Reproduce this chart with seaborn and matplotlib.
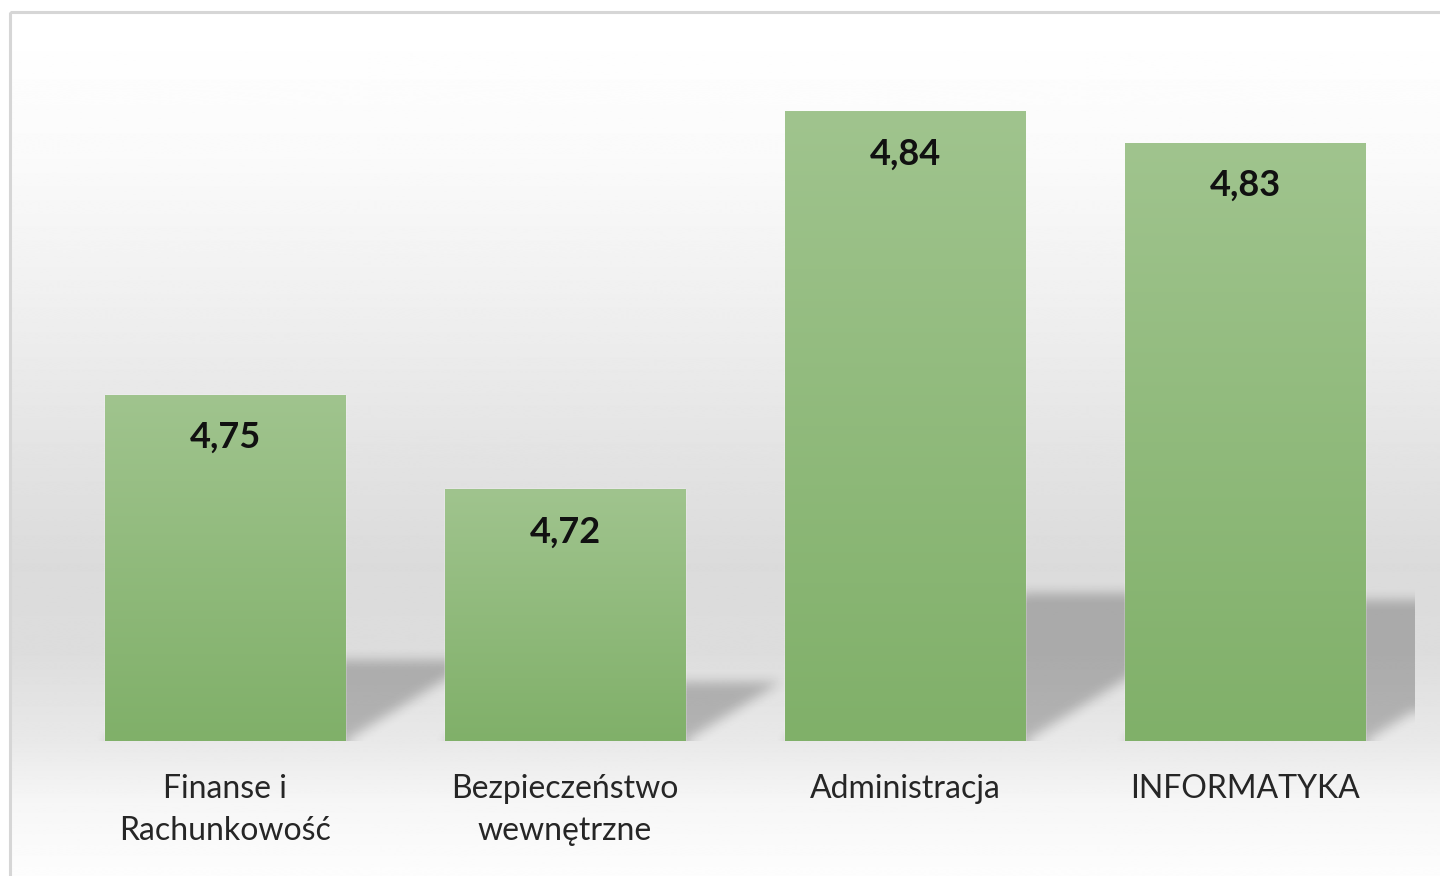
import numpy as np
import pandas as pd
import matplotlib
matplotlib.use('Agg')
import matplotlib.pyplot as plt
from matplotlib.patches import Rectangle
import seaborn as sns

# dane z wykresu
kierunki = ['Finanse i\nRachunkowość', 'Bezpieczeństwo\nwewnętrzne', 'Administracja', 'INFORMATYKA']
oceny = [4.75, 4.72, 4.84, 4.83]
etykiety = ['4,75', '4,72', '4,84', '4,83']

y_min, y_max = 4.64, 4.86

df = pd.DataFrame({'kierunek': kierunki, 'ocena': oceny})

sns.set_theme(style='white')
plt.rcParams['font.family'] = ['Lato', 'DejaVu Sans']

W, H = 1440, 876
fig = plt.figure(figsize=(W / 100, H / 100), dpi=100)

# tło: szary gradient w ramce wykresu
bg = fig.add_axes([0, 0, 1, 1], zorder=0)
bg.set_xlim(0, W)
bg.set_ylim(H, 0)
bg.axis('off')
ys = np.arange(H)
prof_y = [0, 40, 150, 300, 450, 560, 650, 741, 800, 876]
prof_v = [255, 254, 250, 239, 227, 219, 221, 233, 246, 253]
gray = np.interp(ys, prof_y, prof_v) / 255.0
grad = np.repeat(gray[:, None], 2, axis=1)
bg.imshow(grad, cmap='gray', vmin=0, vmax=1, aspect='auto',
          extent=(10, W + 5, H, 12), interpolation='bilinear')
bg.add_patch(Rectangle((10, 12), W, H, fill=False, edgecolor='#d6d6d6', linewidth=2.2))

# obszar kreślenia
left, right, bottom, top = 55, 1415, 741, 48
ax = fig.add_axes([left / W, (H - bottom) / H, (right - left) / W, (bottom - top) / H], zorder=1)
ax.patch.set_alpha(0)

sns.barplot(data=df, x='kierunek', y='ocena', ax=ax, color='#8fba7b',
            saturation=1, width=0.707, zorder=3)
ax.set_ylim(y_min, y_max)
ax.set_xlim(-0.5, len(kierunki) - 0.5)
for s in ax.spines.values():
    s.set_visible(False)
ax.set_yticks([])
ax.set_xlabel('')
ax.set_ylabel('')
ax.tick_params(axis='x', length=0, pad=24, labelsize=23, labelcolor='#262626')
for t in ax.get_xticklabels():
    t.set_linespacing(1.5)

# cienie perspektywiczne (raster z rozmyciem)
aw, ah = right - left, bottom - top
px = np.arange(aw)[None, :] + 0.5
py = np.arange(ah)[:, None] + 0.5
mask = np.zeros((ah, aw))
x_per_cat = aw / (len(kierunki))
y_per_unit = ah / (y_max - y_min)
for bar in ax.patches:
    x0 = (bar.get_x() + 0.5) * x_per_cat
    x1 = x0 + bar.get_width() * x_per_cat
    hp = (bar.get_height() - y_min) * y_per_unit
    sh = 0.235 * hp
    dx = 0.38 * hp
    s = dx * py / sh
    m = (py <= sh) & (px >= x0 + s) & (px <= x1 + s)
    mask = np.maximum(mask, m.astype(float))


def box_blur(a, r):
    pad = np.pad(a, ((r, r), (r, r)), mode='edge')
    c = np.cumsum(pad, axis=0)
    c = np.vstack([np.zeros((1, c.shape[1])), c])
    a1 = (c[2 * r + 1:, :] - c[:-2 * r - 1, :]) / (2 * r + 1)
    c = np.cumsum(a1, axis=1)
    c = np.hstack([np.zeros((c.shape[0], 1)), c])
    return (c[:, 2 * r + 1:] - c[:, :-2 * r - 1]) / (2 * r + 1)


for _ in range(3):
    mask = box_blur(mask, 5)

shadow = np.zeros((ah, aw, 4))
shadow[..., 3] = 0.23 * mask
ax.imshow(shadow, origin='lower', extent=(0, 1, 0, 1), transform=ax.transAxes,
          aspect='auto', zorder=1, interpolation='bilinear')

# gradient na słupkach
g = np.linspace(0, 1, 256)[:, None]
c_top = np.array([160, 196, 142]) / 255
c_bot = np.array([128, 176, 105]) / 255
bar_grad = (c_bot[None, None, :] * (1 - g[..., None]) + c_top[None, None, :] * g[..., None])
bar_grad = np.repeat(bar_grad, 2, axis=1)
for bar in ax.patches:
    x0 = bar.get_x()
    x1 = x0 + bar.get_width()
    im = ax.imshow(bar_grad, origin='lower', aspect='auto',
                   extent=(x0, x1, y_min, bar.get_height()), zorder=4,
                   interpolation='bilinear')
    im.set_clip_path(bar)

ax.set_xlim(-0.5, len(kierunki) - 0.5)
ax.set_ylim(y_min, y_max)

# etykiety wartości
for i, (v, lab) in enumerate(zip(oceny, etykiety)):
    ax.annotate(lab, (i, v), xytext=(0, -31), textcoords='offset points',
                ha='center', va='center', fontsize=26, fontweight='bold',
                color='#111111', zorder=5)

fig.savefig('out.png', dpi=100)
